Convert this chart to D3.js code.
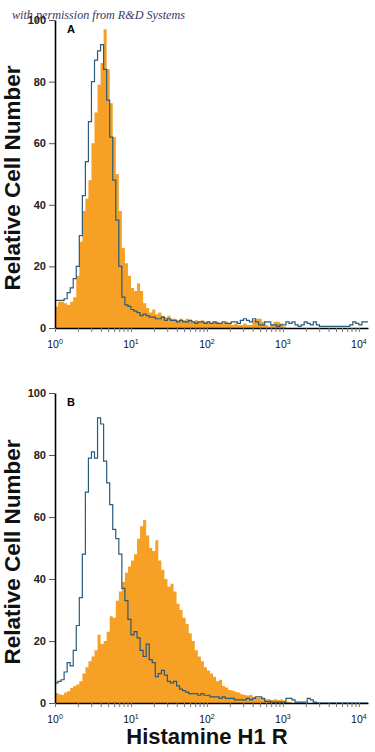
<!DOCTYPE html>
<html lang="en">
<head>
    <meta charset="UTF-8">
    <title>Histamine H1 R</title>
    <script src="https://cdn.jsdelivr.net/npm/d3@7"></script>
    <style>
        body { margin: 0; background: #fff; }
        svg { display: block; }
        .tick text { font-family: "Liberation Sans", Arial, sans-serif; }
    </style>
</head>
<body>
<div id="chart"></div>
<script>
    // flow cytometry histograms, 25 channels per decade, counts
    const binsPerDecade = 25;
    const yTicks = [0, 20, 40, 60, 80, 100];
    const decades = [0, 1, 2, 3, 4];
    const panels = ["A", "B"];

    // panel A
    const isotypeA = [
        9, 9, 9, 9.5, 11.5, 13, 16, 20, 30, 43,
        54, 67, 80, 87, 90, 92, 84, 74, 62, 48,
        35, 20, 10, 7.5, 7, 6, 5.5, 5, 4, 4.5,
        4, 3.5, 3.5, 3, 3, 3.5, 2.5, 3, 2.5, 2.5,
        2, 2.5, 2, 2, 2.5, 2, 1.5, 2, 2, 1.5,
        2, 1.5, 2, 1.5, 1.5, 2, 1.5, 1.5, 2, 2,
        1.5, 2.5, 3, 2.5, 2, 3, 2, 1, 1, 2,
        2, 1, 1, 0.5, 1, 1, 2, 1.5, 2, 1,
        0.5, 1, 2, 1.5, 1, 2, 1, 0.5, 0.5, 0.5,
        0.5, 0.5, 0.5, 0.5, 0.5, 0.5, 0.5, 1, 2, 1.5,
        1, 2, 2
    ];
    const stainedA = [
        7, 8.5, 8.5, 8, 7.5, 8.5, 10, 17, 28, 38,
        42, 48, 60, 70, 79, 86, 97, 84, 73, 62,
        50, 38, 26, 21, 17, 13, 12, 14.5, 12, 8,
        6.5, 5, 6, 4.5, 5, 4, 3.5, 4, 3, 3,
        2.5, 3, 2.5, 3, 2.5, 2, 2.5, 2, 2.5, 2,
        2, 1.5, 2, 2, 1.5, 1.5, 2, 1.5, 1, 1.5,
        1, 1, 1.5, 1, 1, 2.5, 3, 3, 2, 1,
        0.5, 1, 2, 2, 1.5, 0.5, 0, 0, 0, 0,
        0, 0, 0, 0, 0, 0, 0, 0, 0, 0,
        0, 0, 0, 0, 0, 0, 0, 0, 0, 0,
        0, 0, 0
    ];

    // panel B
    const isotypeB = [
        6.5, 7, 7.5, 10, 13, 12, 17, 25, 34, 48,
        68, 79, 81, 79, 92, 90, 78, 71, 64, 56,
        53, 48, 37, 33, 27, 22, 23, 21, 17, 15,
        19, 14, 13, 8.5, 9.5, 10.5, 9, 7, 6.5, 7,
        5.5, 4.5, 4, 3.5, 3, 3, 3, 2.5, 3, 2.5,
        2.5, 2, 2, 2, 1.5, 2, 1.5, 1.5, 1.5, 1,
        1, 1, 1, 1.5, 1, 1.5, 2, 2, 1.5, 0.5,
        0.5, 0.3, 0.3, 0.3, 0.3, 0.3, 1.5, 1.5, 1, 0.3,
        0.3, 0.3, 0.3, 1.5, 1, 0.3, 0, 0, 0, 0,
        0, 0, 0, 0, 0, 0, 0, 0, 0, 0,
        0, 0, 0
    ];
    const stainedB = [
        3.2, 2.8, 2.6, 3.4, 3.8, 4.8, 5.5, 6, 7, 9.5,
        11.5, 13.5, 15, 17, 22, 19, 20, 23, 28, 27.5,
        33, 36, 39, 42, 44, 46, 48, 53, 57, 59,
        54, 50, 49, 52.5, 46, 43, 40, 37.5, 38.5, 36,
        32, 30, 27.5, 25.5, 22.5, 20, 17, 15, 13.5, 11.5,
        10.5, 9.5, 8.5, 7, 7.5, 5.5, 5, 4.2, 4, 3.6,
        3.4, 2.8, 2.6, 2.4, 2.6, 2, 1.6, 1.6, 1.3, 1.2,
        1.2, 1, 1.2, 1, 1.1, 0.8, 0.5, 0.3, 0, 0,
        0, 0, 0, 0, 0, 0, 0, 0, 0, 0,
        0, 0, 0, 0, 0, 0, 0, 0, 0, 0,
        0, 0, 0
    ];

    const seriesByPanel = {
        A: {isotype: isotypeA, stained: stainedA},
        B: {isotype: isotypeB, stained: stainedB}
    };

    const width = 375, height = 752;
    const orange = "#f6a125";
    const blue = "#2a5a7c";

    const svg = d3.select("#chart").append("svg")
        .attr("width", width)
        .attr("height", height);

    const nBins = isotypeA.length;
    const xMax = Math.pow(10, nBins / binsPerDecade);
    const x = d3.scaleLog().domain([1, xMax]).range([55, 368]);

    // channel edges, in fluorescence units
    const edge = i => Math.pow(10, i / binsPerDecade);

    const layout = {
        A: {top: 20, bottom: 328},
        B: {top: 393, bottom: 703}
    };

    panels.forEach(p => {
        const L = layout[p];
        const y = d3.scaleLinear().domain([0, 100]).range([L.bottom, L.top]);
        const g = svg.append("g");

        const toPts = arr => {
            const pts = arr.map((v, i) => ({x: edge(i), v: v}));
            pts.push({x: edge(arr.length), v: arr[arr.length - 1]});
            return pts;
        };

        const area = d3.area()
            .x(d => x(d.x))
            .y0(y(0))
            .y1(d => y(d.v))
            .curve(d3.curveStepAfter);

        const line = d3.line()
            .x(d => x(d.x))
            .y(d => y(d.v))
            .curve(d3.curveStepAfter);

        g.append("path")
            .datum(toPts(seriesByPanel[p].stained))
            .attr("d", area)
            .attr("fill", orange);

        g.append("path")
            .datum(toPts(seriesByPanel[p].isotype))
            .attr("d", line)
            .attr("fill", "none")
            .attr("stroke", blue)
            .attr("stroke-width", 1.2);

        // y axis
        const yAxis = g.append("g")
            .attr("transform", "translate(55,0)")
            .call(d3.axisLeft(y).tickValues(yTicks).tickSize(6).tickSizeOuter(0).tickPadding(3));
        yAxis.select(".domain").attr("stroke", "#000").attr("stroke-width", 1.6);
        yAxis.selectAll(".tick line").attr("stroke", "#555");
        yAxis.selectAll(".tick text")
            .attr("font-size", 11)
            .attr("font-weight", "bold")
            .attr("fill", "#222");

        // x axis: log minor ticks, decade labels drawn below
        const minor = [];
        decades.forEach(d => {
            for (let k = 1; k <= 9; k++) {
                const v = k * Math.pow(10, d);
                if (v <= xMax) minor.push(v);
            }
        });
        const xAxis = g.append("g")
            .attr("transform", `translate(0,${L.bottom})`)
            .call(d3.axisBottom(x).tickValues(minor).tickSize(4).tickSizeOuter(0).tickFormat(""));
        xAxis.select(".domain").attr("stroke", "#000").attr("stroke-width", 1.6);
        xAxis.selectAll(".tick line").attr("stroke", "#777");

        const lbl = g.selectAll(".dec")
            .data(decades)
            .enter()
            .append("text")
            .attr("class", "dec")
            .attr("x", d => x(Math.pow(10, d)))
            .attr("y", L.bottom + 20)
            .attr("text-anchor", "middle")
            .attr("font-family", "'Liberation Sans', Arial, sans-serif")
            .attr("font-size", 10.5)
            .attr("fill", "#111");
        lbl.append("tspan").text("10");
        lbl.append("tspan")
            .attr("dy", -4)
            .attr("font-size", 7)
            .text(d => d);

        // panel letter
        g.append("text")
            .attr("x", 67)
            .attr("y", L.top + 13)
            .attr("font-family", "'Liberation Sans', Arial, sans-serif")
            .attr("font-weight", "bold")
            .attr("font-size", 11)
            .text(p);

        // y title
        g.append("text")
            .attr("transform", `translate(20,${(L.top + L.bottom) / 2 + 4}) rotate(-90)`)
            .attr("text-anchor", "middle")
            .attr("font-family", "'Liberation Sans', Arial, sans-serif")
            .attr("font-weight", "bold")
            .attr("font-size", 22.5)
            .attr("fill", "#111")
            .text("Relative Cell Number");
    });

    // x title
    svg.append("text")
        .attr("x", 207)
        .attr("y", 744)
        .attr("text-anchor", "middle")
        .attr("font-family", "'Liberation Sans', Arial, sans-serif")
        .attr("font-weight", "bold")
        .attr("font-size", 22)
        .attr("fill", "#111")
        .text("Histamine H1 R");

    // watermark
    svg.append("text")
        .attr("x", 12)
        .attr("y", 19)
        .attr("font-family", "'Liberation Serif', 'DejaVu Serif', serif")
        .attr("font-style", "italic")
        .attr("font-size", 12.5)
        .attr("textLength", 173)
        .attr("lengthAdjust", "spacingAndGlyphs")
        .attr("fill", "#1d2352")
        .attr("opacity", 0.9)
        .text("with permission from R&D Systems");
</script>
</body>
</html>
